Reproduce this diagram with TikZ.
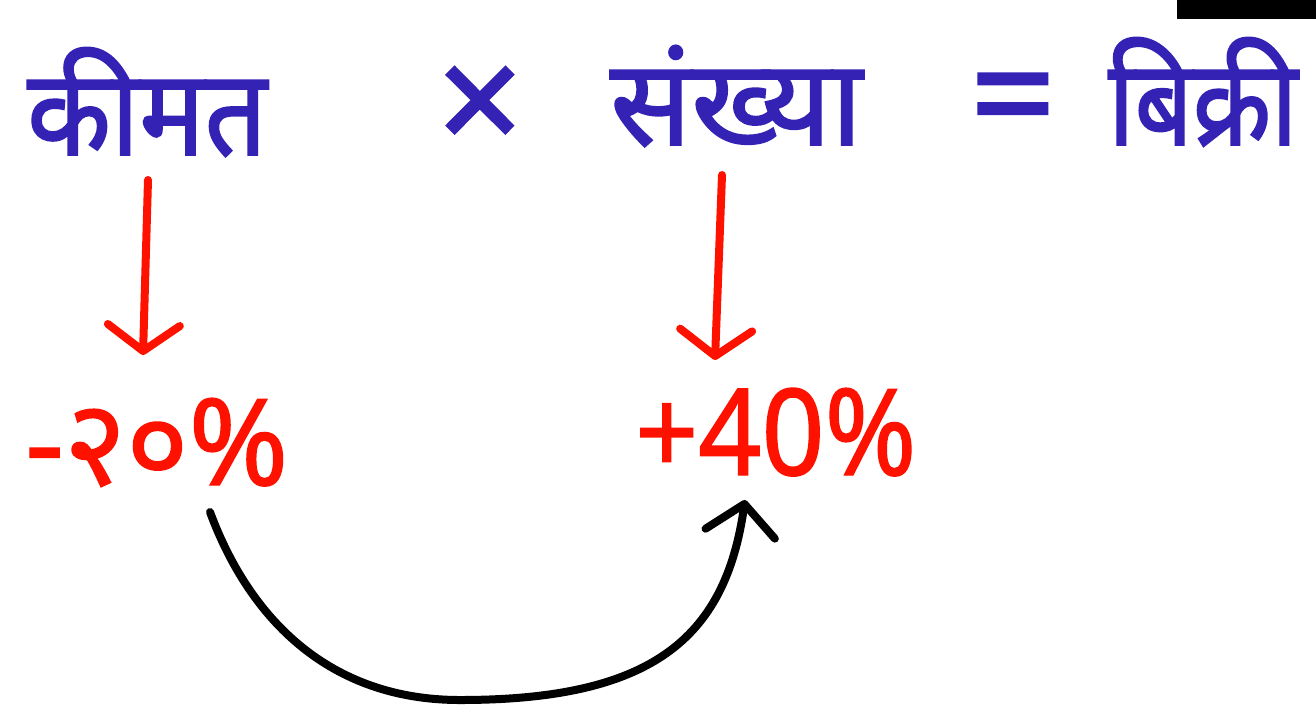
\documentclass[tikz,border=0pt]{standalone}
\usepackage{fontspec}
\newfontfamily\deva[Script=Devanagari,FakeBold=1.6]{Noto Sans}
\newfontfamily\devared[Script=Devanagari,FakeBold=1.2]{Noto Sans}
\newfontfamily\symb[FakeBold=1.6]{Noto Sans}
\usetikzlibrary{arrows.meta}
\definecolor{inkblue}{HTML}{3322B4}
\definecolor{inkred}{HTML}{FF1100}
\tikzset{
  word/.style={inner sep=0pt, text=inkblue, font=\deva\fontsize{120}{130}\selectfont},
  sym/.style={inner sep=0pt, text=inkblue, font=\symb\fontsize{150}{160}\selectfont},
  pct/.style={inner sep=0pt, text=inkred, font=\devared\fontsize{120}{130}\selectfont},
  downarrow/.style={draw=inkred, line width=8pt, line cap=round,
     -{Straight Barb[length=26pt,width=72pt,round]}},
  curvearrow/.style={draw=black, line width=8pt, line cap=round,
     -{Straight Barb[length=30pt,width=70pt,round]}}
}
\begin{document}
\begin{tikzpicture}[x=1pt,y=-1pt]
\useasboundingbox (0,0) rectangle (1316,721);
\fill[black] (1177,0) rectangle (1316,19);
\node[word, anchor=base west, xscale=0.91] (price) at (27,155) {कीमत};
\node[sym] (times) at (480,110) {×};
\node[word, anchor=base west] (count) at (610,145) {संख्या};
\node[sym] (equals) at (1013,110) {=};
\node[word, anchor=base west, xscale=0.85] (sales) at (1108,145) {बिक्री};
\node[pct, anchor=base west] (minus) at (25,485) {-२०\%};
\node[pct, anchor=base west, xscale=0.92] (plus) at (635,475) {+40\%};
\coordinate (a1s) at (148,180);
\coordinate (a1e) at (143,355);
\coordinate (a2s) at (722,175);
\coordinate (a2e) at (715,360);
\coordinate (cs) at (210,512);
\coordinate (ce) at (745,500);
\draw[downarrow] (a1s) -- (a1e);
\draw[downarrow] (a2s) -- (a2e);
\draw[curvearrow] (cs) .. controls (250,620) and (330,700) .. (460,700)
   .. controls (650,700) and (725,640) .. (ce);
\end{tikzpicture}
\end{document}
